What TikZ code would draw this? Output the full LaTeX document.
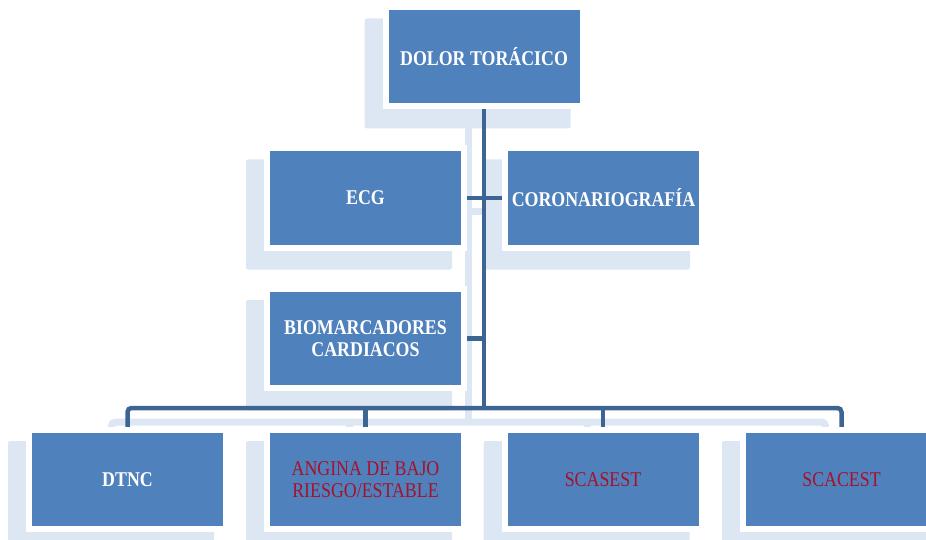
\documentclass[tikz,border=0pt]{standalone}
\usepackage{fontspec}
\setmainfont{Liberation Serif}[FakeStretch=0.85]
\usetikzlibrary{calc}
\definecolor{boxblue}{HTML}{4F81BD}
\definecolor{linkblue}{HTML}{3D6594}
\definecolor{shadeblue}{HTML}{DDE7F3}
\definecolor{alertred}{HTML}{A8102A}
\pgfdeclarelayer{bg}
\pgfsetlayers{bg,main}
\tikzset{
  box/.style={rectangle, fill=boxblue, draw=white, line width=6pt,
    minimum width=197pt, minimum height=99pt, inner sep=0pt, align=center,
    text=white, font=\fontsize{21}{22}\selectfont\bfseries},
  alert/.style={text=alertred, font=\fontsize{21}{22}\selectfont\mdseries},
  link/.style={draw=linkblue, line width=4.5pt},
  linkshade/.style={draw=shadeblue, line width=7pt},
}
% drop shadow behind a box node
\newcommand\boxshade[1]{%
  \fill[shadeblue, rounded corners=2pt]
    ($(#1.north west)+(-18,14)$) rectangle ($(#1.south east)+(-15,19)$);}
% connector tree, drawn once as its shade and once in colour
\newcommand\treelinks[1]{%
  \path[#1] (dolor.south) -- (dolor.south |- hub);
  \path[#1] (ecg.east) -- (coro.west);
  \path[#1] (bio.east) -- (bio.east -| dolor.south);
  \path[#1, rounded corners=4pt] (dtnc.north) |- (hub) -| (scacest.north);
  \path[#1] (angina.north) -- (angina.north |- hub);
  \path[#1] (scasest.north) -- (scasest.north |- hub);}
\begin{document}
\begin{tikzpicture}[x=1pt, y=-1pt]
  \useasboundingbox (0,0) rectangle (926,540);
  \clip (0,0) rectangle (926,540);

  \node[box] (dolor)   at (484,57)    {DOLOR TORÁCICO};
  \node[box] (ecg)     at (365.5,198) {ECG};
  \node[box] (coro)    at (603.5,198) {CORONARIOGRAFÍA};
  \node[box] (bio)     at (365.5,338.5) {BIOMARCADORES\\CARDIACOS};
  \node[box] (dtnc)    at (127.5,479.5) {DTNC};
  \node[box, alert] (angina)  at (365.5,479.5) {ANGINA DE BAJO\\RIESGO/ESTABLE};
  \node[box, alert] (scasest) at (603,479.5)   {SCASEST};
  \node[box, alert] (scacest) at (841.5,479.5) {SCACEST};
  \coordinate (hub) at (484,408);

  \begin{pgfonlayer}{bg}
    \begin{scope}[transform canvas={shift={(-16pt,-14pt)}}]
      \treelinks{linkshade}
    \end{scope}
    \boxshade{dolor}
    \boxshade{ecg}
    \boxshade{coro}
    \boxshade{bio}
    \boxshade{dtnc}
    \boxshade{angina}
    \boxshade{scasest}
    \boxshade{scacest}
    \treelinks{link}
  \end{pgfonlayer}
\end{tikzpicture}
\end{document}
